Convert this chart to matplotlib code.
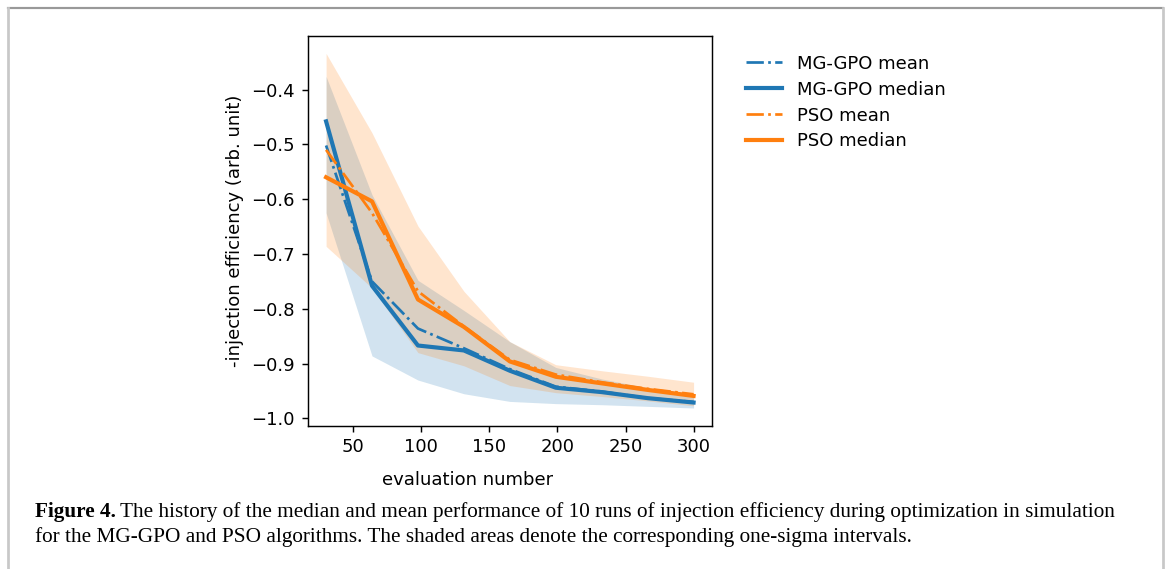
import numpy as np
import matplotlib
matplotlib.use("Agg")
import matplotlib.pyplot as plt
from matplotlib.lines import Line2D

# evaluation numbers
evals = [30, 63.75, 97.5, 131.25, 165, 198.75, 232.5, 266.25, 300]

# MG-GPO
gpo_mean = [-0.502, -0.750, -0.836, -0.872, -0.910, -0.942, -0.951, -0.963, -0.970]
gpo_median = [-0.458, -0.758, -0.867, -0.876, -0.913, -0.944, -0.952, -0.963, -0.971]
gpo_upper = [-0.376, -0.592, -0.748, -0.803, -0.860, -0.907, -0.928, -0.944, -0.955]
gpo_lower = [-0.625, -0.886, -0.930, -0.955, -0.969, -0.973, -0.975, -0.978, -0.981]

# PSO
pso_mean = [-0.510, -0.625, -0.768, -0.832, -0.893, -0.920, -0.934, -0.946, -0.956]
pso_median = [-0.560, -0.604, -0.783, -0.833, -0.896, -0.924, -0.936, -0.948, -0.959]
pso_upper = [-0.334, -0.479, -0.649, -0.768, -0.860, -0.902, -0.913, -0.923, -0.934]
pso_lower = [-0.686, -0.762, -0.880, -0.904, -0.940, -0.953, -0.960, -0.968, -0.977]

fig = plt.figure(figsize=(9, 569 / 130), dpi=130)
ax = fig.add_axes([0.263, 0.2518, 0.3455, 0.6855])

ax.plot(evals, gpo_mean, '-.', color='C0', lw=1.5, label='MG-GPO mean')
ax.plot(evals, gpo_median, '-', color='C0', lw=2.3, label='MG-GPO median')
ax.fill_between(evals, gpo_lower, gpo_upper, color='C0', alpha=0.2, lw=0)
ax.plot(evals, pso_mean, '-.', color='C1', lw=1.5, label='PSO mean')
ax.plot(evals, pso_median, '-', color='C1', lw=2.3, label='PSO median')
ax.fill_between(evals, pso_lower, pso_upper, color='C1', alpha=0.2, lw=0)

ax.set_xticks([50, 100, 150, 200, 250, 300])
ax.set_yticks([-1.0, -0.9, -0.8, -0.7, -0.6, -0.5, -0.4])
ax.set_xlabel('evaluation number')
ax.xaxis.set_label_coords(0.396, -0.115)
ax.set_ylabel('-injection efficiency (arb. unit)')
ax.legend(loc='upper left', bbox_to_anchor=(1.044, 0.993), frameon=False,
          labelspacing=0.44)

# page frame
fig.add_artist(Line2D([8 / 1170, 1163 / 1170], [1 - 8 / 569, 1 - 8 / 569], color='#999999', lw=1.2))
fig.add_artist(Line2D([8 / 1170, 8 / 1170], [0, 1 - 8 / 569], color='#c8c8c8', lw=1.5))
fig.add_artist(Line2D([1163 / 1170, 1163 / 1170], [0, 1 - 8 / 569], color='#c8c8c8', lw=1.5))

# caption
cap_size = 11.8
t1 = fig.text(35 / 1170, 1 - 517 / 569, 'Figure 4.', family='Liberation Serif',
              weight='bold', size=cap_size, va='baseline')
fig.canvas.draw()
bb = t1.get_window_extent()
fig.text((bb.x1 + 4) / 1170, 1 - 517 / 569,
         'The history of the median and mean performance of 10 runs of injection efficiency during optimization in simulation',
         family='Liberation Serif', size=cap_size, va='baseline')
fig.text(35 / 1170, 1 - 542 / 569,
         'for the MG-GPO and PSO algorithms. The shaded areas denote the corresponding one-sigma intervals.',
         family='Liberation Serif', size=cap_size, va='baseline')

fig.savefig('out.png', dpi=130)
